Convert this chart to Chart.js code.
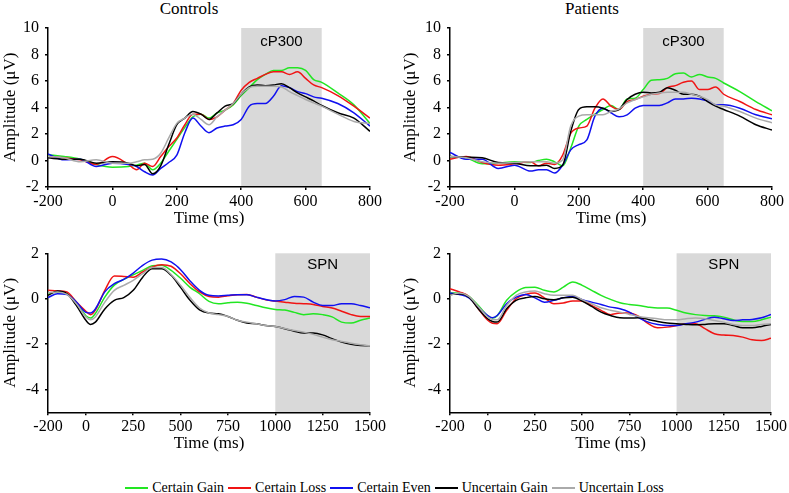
<!DOCTYPE html>
<html>
<head>
<meta charset="utf-8">
<script src="https://cdn.jsdelivr.net/npm/chart.js@4.4.1/dist/chart.umd.min.js"></script>
<style>
  html, body { margin: 0; padding: 0; background: #fff; }
  #fig { position: relative; width: 789px; height: 493px; overflow: hidden;
         font-family: 'Liberation Serif', 'Times New Roman', serif; color: #000; }
  #fig canvas { position: absolute; }
  .title { position: absolute; top: 0; font-size: 17px; line-height: 17px;
           transform: translateX(-50%); white-space: nowrap; }
  #legend { position: absolute; left: 0; top: 480px; width: 789px; display: flex;
            justify-content: center; font-size: 14px; line-height: 16px; }
  .item { display: flex; align-items: center; margin: 0 2px; }
  .swatch { width: 23px; height: 2px; margin-right: 4px; }
</style>
</head>
<body>
<div id="fig">
  <div class="title" style="left:189px">Controls</div>
  <div class="title" style="left:592px">Patients</div>
  <canvas id="ctrlP3" width="395" height="229" style="left:0;top:0"></canvas>
  <canvas id="patP3" width="389" height="229" style="left:400px;top:0"></canvas>
  <canvas id="ctrlSpn" width="395" height="230" style="left:0;top:230px"></canvas>
  <canvas id="patSpn" width="389" height="230" style="left:400px;top:230px"></canvas>
  <div id="legend"></div>
</div>
<script>
// ---- data ----
const seriesNames = ['Certain Gain', 'Certain Loss', 'Certain Even', 'Uncertain Gain', 'Uncertain Loss'];
const seriesColors = ['#22e622', '#f01414', '#1010f0', '#000000', '#aaaaaa'];

// cP300 window (-200..800 ms)
const p3Times = [-200,-150,-100,-50,0,50,75,100,125,150,175,200,225,250,275,300,325,350,375,400,425,450,475,500,525,550,575,600,625,650,700,750,800];
const p3XTicks = [-200, 0, 200, 400, 600, 800];
const p3YTicks = [-2, 0, 2, 4, 6, 8, 10];

const ctrlP3Gain  = [0.43,0.3,0.1,-0.3,-0.5,-0.45,-0.35,-0.2,-0.7,-0.2,0.7,1.6,2.5,3.3,3.5,3.2,3.6,3.8,4.2,4.9,5.5,6.1,6.5,6.8,6.8,7.0,7.0,6.8,6.1,5.9,5.1,4.2,2.8];
const ctrlP3Loss  = [0.3,0.2,0.05,-0.3,0.3,-0.3,-0.7,-0.2,-0.45,0.3,1.05,1.7,2.7,3.5,3.5,3.1,3.3,3.8,4.3,5.3,5.9,6.2,6.5,6.7,6.7,6.5,6.7,6.2,5.7,5.5,4.9,4.1,3.2];
const ctrlP3Even  = [0.5,0.05,0.1,-0.45,-0.2,-0.3,-0.45,-0.85,-1.1,-0.6,-0.15,0.4,2.1,3.2,2.6,2.1,2.45,2.6,2.7,3.1,4.1,4.3,4.3,4.85,5.65,5.5,5.2,5.05,4.8,4.7,4.3,3.6,2.6];
const ctrlP3UGain = [0.2,0.1,0.1,-0.2,-0.1,-0.2,-0.4,-0.3,-1.0,-0.4,1.2,2.7,3.2,3.7,3.5,3.1,3.6,4.1,4.3,5.0,5.55,5.7,5.65,5.7,5.8,5.5,5.1,4.8,4.5,4.15,3.6,3.2,2.2];
const ctrlP3ULoss = [0.3,0.2,-0.1,0.05,-0.2,-0.2,-0.1,0.05,0.1,0.55,1.7,2.8,3.2,3.5,3.1,2.7,3.3,3.8,4.3,5.0,5.5,5.6,5.6,5.6,5.55,5.2,4.9,4.6,4.35,4.1,3.5,2.95,2.8];

const patP3Gain  = [0.3,0.2,-0.25,-0.2,-0.1,-0.15,0.0,0.1,-0.1,-0.4,0.95,2.6,3.1,3.5,3.85,4.15,3.85,4.65,4.7,5.35,6.05,6.1,6.2,6.55,6.6,6.3,6.5,6.3,6.2,5.85,5.2,4.45,3.75];
const patP3Loss  = [0.1,0.3,-0.15,-0.35,-0.25,-0.1,-0.4,-0.2,-0.3,0.4,2.05,2.45,2.6,3.95,4.65,4.1,3.85,4.45,4.6,4.85,5.0,5.05,5.5,5.65,5.9,6.0,5.35,5.35,5.55,5.0,4.45,3.85,3.45];
const patP3Even  = [0.6,0.1,0.1,-0.6,-0.35,-0.8,-0.7,-0.7,-0.95,-0.35,0.8,1.2,1.55,3.35,3.95,3.6,3.3,3.45,3.95,4.15,4.15,4.15,4.35,4.65,4.65,4.7,4.65,4.5,4.2,4.2,3.95,3.45,3.15];
const patP3UGain = [0.3,0.25,0.2,-0.15,-0.2,-0.4,-0.4,-0.35,-0.6,-0.35,2.2,3.85,4.05,4.05,3.95,3.7,3.85,4.6,5.0,5.15,5.1,5.15,5.5,5.3,5.0,5.0,4.85,4.45,4.1,3.85,3.35,2.7,2.3];
const patP3ULoss = [0.3,0.2,-0.1,-0.2,-0.15,-0.1,-0.1,-0.1,-0.2,0.05,2.6,3.35,3.45,3.45,3.45,3.7,3.9,4.35,4.6,4.8,5.0,5.1,5.15,5.15,5.15,5.0,4.85,4.6,4.2,4.1,3.7,3.2,2.85];

// SPN window (-200..1500 ms)
const spnTimes = [-200,-150,-100,-50,0,25,50,100,150,200,250,300,350,400,450,500,550,600,650,700,750,800,850,900,950,1000,1050,1100,1150,1200,1250,1300,1350,1400,1450,1500];
const spnXTicks = [-200, 0, 250, 500, 750, 1000, 1250, 1500];
const spnYTicks = [-4, -2, 0, 2];

const ctrlSpnGain  = [0.22,0.3,0.22,-0.15,-0.75,-0.85,-0.65,0.07,0.6,0.85,1.05,1.25,1.45,1.47,1.25,0.9,0.5,0.22,-0.12,-0.22,-0.18,-0.15,-0.2,-0.3,-0.4,-0.47,-0.5,-0.6,-0.7,-0.66,-0.7,-0.8,-1.03,-1.07,-0.95,-0.85];
const ctrlSpnLoss  = [0.37,0.34,0.3,-0.15,-0.55,-0.7,-0.5,0.37,1.0,0.98,0.95,1.18,1.4,1.5,1.43,1.1,0.66,0.3,0.1,0.07,0.13,0.18,0.19,0.07,-0.05,-0.1,-0.15,-0.2,-0.22,-0.25,-0.34,-0.41,-0.55,-0.7,-0.78,-0.78];
const ctrlSpnEven  = [0.05,0.22,0.19,-0.15,-0.6,-0.63,-0.45,0.3,0.66,0.85,1.13,1.47,1.7,1.75,1.62,1.28,0.78,0.37,0.15,0.12,0.15,0.18,0.18,0.07,-0.03,-0.1,-0.04,0.1,0.07,-0.15,-0.3,-0.3,-0.22,-0.22,-0.3,-0.4];
const ctrlSpnUGain = [0.15,0.34,0.22,-0.3,-0.95,-1.13,-1.03,-0.45,-0.07,0.05,0.37,0.95,1.32,1.32,1.03,0.5,-0.07,-0.49,-0.63,-0.66,-0.78,-0.95,-1.07,-1.1,-1.18,-1.22,-1.32,-1.43,-1.51,-1.51,-1.59,-1.76,-1.91,-2.01,-2.06,-2.07];
const ctrlSpnULoss = [0.25,0.3,0.19,-0.22,-0.8,-0.92,-0.8,-0.15,0.37,0.59,0.81,1.1,1.37,1.37,1.07,0.59,0.05,-0.41,-0.63,-0.7,-0.78,-0.95,-1.03,-1.1,-1.18,-1.22,-1.31,-1.4,-1.47,-1.57,-1.69,-1.81,-1.88,-1.96,-2.03,-2.07];

const patSpnGain  = [0.25,0.25,0.1,-0.3,-0.75,-0.85,-0.75,-0.07,0.3,0.49,0.51,0.37,0.3,0.51,0.74,0.59,0.37,0.15,-0.03,-0.18,-0.25,-0.3,-0.37,-0.41,-0.41,-0.51,-0.63,-0.7,-0.74,-0.75,-0.81,-0.93,-1.0,-1.0,-0.93,-0.81];
const patSpnLoss  = [0.44,0.3,0.1,-0.44,-0.95,-1.08,-1.1,-0.51,0.0,0.19,0.25,0.04,-0.22,-0.19,-0.1,-0.1,-0.3,-0.51,-0.7,-0.63,-0.63,-0.78,-1.1,-1.28,-1.25,-1.18,-1.1,-1.1,-1.32,-1.54,-1.6,-1.62,-1.69,-1.81,-1.84,-1.74];
const patSpnEven  = [0.25,0.19,0.04,-0.37,-0.74,-0.84,-0.74,-0.22,0.07,0.19,0.04,-0.15,-0.07,0.04,0.1,-0.04,-0.15,-0.25,-0.37,-0.44,-0.59,-0.84,-1.03,-1.13,-1.18,-1.18,-1.1,-1.03,-0.91,-0.81,-0.88,-0.96,-0.93,-0.91,-0.84,-0.69];
const patSpnUGain = [0.19,0.22,0.07,-0.44,-0.88,-1.0,-1.03,-0.44,-0.07,0.04,0.1,0.0,-0.04,0.04,0.07,-0.1,-0.34,-0.59,-0.74,-0.84,-0.85,-0.84,-0.91,-1.0,-1.07,-1.1,-1.13,-1.15,-1.13,-1.1,-1.1,-1.18,-1.28,-1.28,-1.22,-1.13];
const patSpnULoss = [0.15,0.25,0.1,-0.34,-0.81,-0.92,-0.93,-0.3,0.15,0.3,0.34,0.22,0.15,0.15,0.15,-0.04,-0.22,-0.4,-0.51,-0.59,-0.69,-0.78,-0.84,-0.88,-0.93,-0.93,-0.88,-0.85,-0.88,-0.96,-1.03,-1.13,-1.18,-1.18,-1.13,-1.1];

// ---- chart setup ----
Chart.defaults.font.family = "'Liberation Serif', 'Times New Roman', serif";
Chart.defaults.color = '#000';

// gray analysis window with its label
function makeBand(from, to, label, labelY) {
  return {
    id: 'band',
    beforeDraw(chart) {
      const { ctx, chartArea: a, scales: { x } } = chart;
      const x0 = x.getPixelForValue(from);
      const x1 = x.getPixelForValue(to);
      ctx.save();
      ctx.fillStyle = '#d9d9d9';
      ctx.fillRect(x0, a.top, x1 - x0, a.bottom - a.top);
      ctx.fillStyle = '#000';
      ctx.font = "15px 'Liberation Sans', Arial, sans-serif";
      ctx.textAlign = 'center';
      ctx.textBaseline = 'middle';
      ctx.fillText(label, (x0 + x1) / 2, a.top + labelY);
      ctx.restore();
    }
  };
}

function axisCommon() {
  return {
    border: { display: true, color: '#000', width: 1.5 },
    grid: { drawOnChartArea: false, drawTicks: true, tickLength: 3, color: '#000', lineWidth: 1.5 }
  };
}

function makePanel(id, times, values, cfg) {
  const datasets = values.map((vals, i) => ({
    label: seriesNames[i],
    data: times.map((t, j) => ({ x: t, y: vals[j] })),
    borderColor: seriesColors[i],
    borderWidth: 1.5,
    pointRadius: 0,
    fill: false,
    cubicInterpolationMode: 'monotone',
    order: values.length - i
  }));

  return new Chart(document.getElementById(id), {
    type: 'line',
    data: { datasets },
    options: {
      responsive: false,
      animation: false,
      layout: { padding: cfg.padding },
      plugins: { legend: { display: false }, tooltip: { enabled: false } },
      scales: {
        x: {
          type: 'linear',
          min: cfg.xMin, max: cfg.xMax,
          ...axisCommon(),
          afterBuildTicks: s => { s.ticks = cfg.xTicks.map(v => ({ value: v })); },
          afterFit: s => { s.height = 42; },
          ticks: { autoSkip: false, maxRotation: 0, padding: 2, font: { size: 16 }, callback: v => String(v) },
          title: { display: true, text: 'Time (ms)', font: { size: 17 }, padding: { top: 0, bottom: 0.3 } }
        },
        y: {
          min: cfg.yMin, max: cfg.yMax,
          ...axisCommon(),
          afterBuildTicks: s => { s.ticks = cfg.yTicks.map(v => ({ value: v })); },
          afterFit: s => { s.width = cfg.yWidth; },
          ticks: { padding: 6, font: { size: 16 }, callback: v => String(v) },
          title: { display: true, text: 'Amplitude (\u03bcV)', font: { size: 17 }, padding: 0 }
        }
      }
    },
    plugins: [makeBand(cfg.band[0], cfg.band[1], cfg.bandLabel, cfg.labelY)]
  });
}

const p3Cfg = { xMin: -200, xMax: 800, yMin: -2, yMax: 10, xTicks: p3XTicks, yTicks: p3YTicks,
                band: [400, 650], bandLabel: 'cP300', labelY: 14 };
const spnCfg = { xMin: -200, xMax: 1500, yMin: -5, yMax: 2, xTicks: spnXTicks, yTicks: spnYTicks,
                 band: [1000, 1500], bandLabel: 'SPN', labelY: 12 };

makePanel('ctrlP3', p3Times, [ctrlP3Gain, ctrlP3Loss, ctrlP3Even, ctrlP3UGain, ctrlP3ULoss],
  { ...p3Cfg, yWidth: 48, padding: { left: 0, right: 25, top: 28, bottom: 0 } });
makePanel('patP3', p3Times, [patP3Gain, patP3Loss, patP3Even, patP3UGain, patP3ULoss],
  { ...p3Cfg, yWidth: 50, padding: { left: 0, right: 17, top: 28, bottom: 0 } });
makePanel('ctrlSpn', spnTimes, [ctrlSpnGain, ctrlSpnLoss, ctrlSpnEven, ctrlSpnUGain, ctrlSpnULoss],
  { ...spnCfg, yWidth: 48, padding: { left: 0, right: 25, top: 23.3, bottom: 5.7 } });
makePanel('patSpn', spnTimes, [patSpnGain, patSpnLoss, patSpnEven, patSpnUGain, patSpnULoss],
  { ...spnCfg, yWidth: 50, padding: { left: 0, right: 17, top: 23.3, bottom: 5.7 } });

// shared legend under the four panels
const legend = document.getElementById('legend');
seriesNames.forEach((name, i) => {
  const item = document.createElement('div');
  item.className = 'item';
  item.innerHTML = '<span class="swatch" style="background:' + seriesColors[i] + '"></span><span>' + name + '</span>';
  legend.appendChild(item);
});
</script>
</body>
</html>
